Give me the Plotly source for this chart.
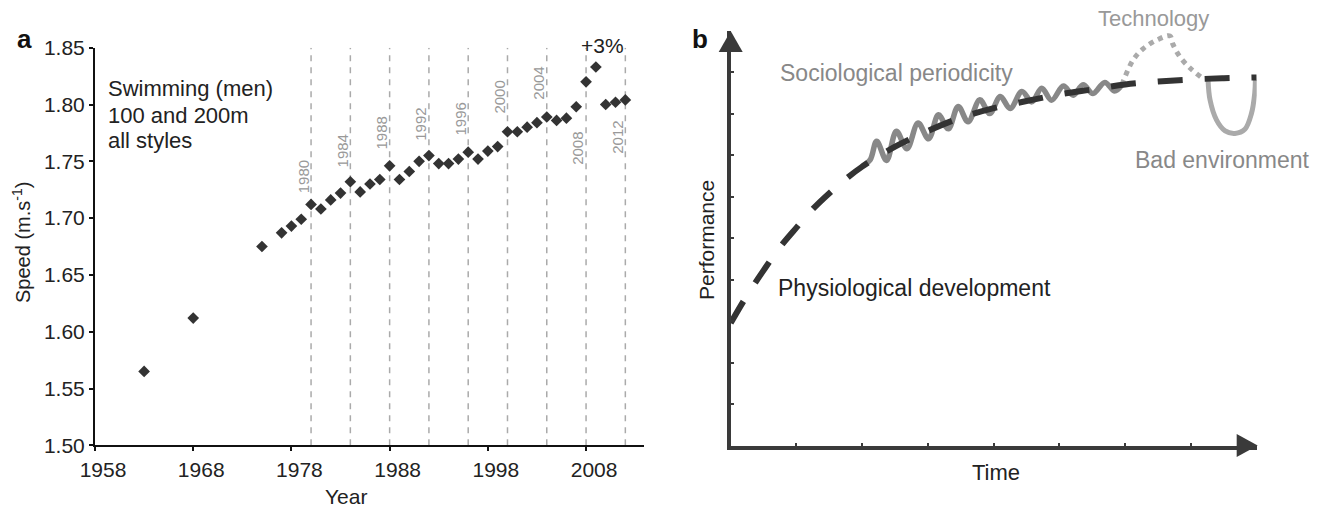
import plotly.graph_objects as go

# ---------------- Panel a data ----------------
years = [1963, 1968, 1975, 1977, 1978, 1979, 1980, 1981, 1982, 1983, 1984, 1985,
         1986, 1987, 1988, 1989, 1990, 1991, 1992, 1993, 1994, 1995, 1996, 1997,
         1998, 1999, 2000, 2001, 2002, 2003, 2004, 2005, 2006, 2007, 2008, 2009,
         2010, 2011, 2012]
speeds = [1.565, 1.612, 1.675, 1.687, 1.693, 1.699, 1.712, 1.708, 1.716, 1.722,
          1.732, 1.723, 1.730, 1.734, 1.746, 1.734, 1.741, 1.750, 1.755, 1.748,
          1.748, 1.752, 1.758, 1.752, 1.759, 1.763, 1.776, 1.776, 1.780, 1.784,
          1.789, 1.786, 1.788, 1.798, 1.820, 1.833, 1.800, 1.802, 1.804]
olympic_years = [1980, 1984, 1988, 1992, 1996, 2000, 2004, 2008, 2012]
x_ticks = [1958, 1968, 1978, 1988, 1998, 2008]
y_ticks = [1.50, 1.55, 1.60, 1.65, 1.70, 1.75, 1.80, 1.85]

# ---------------- Panel b data (schematic) ----------------
phys_x = [0, 0.25, 0.5, 0.75, 1.0, 1.25, 1.5, 1.75, 2.0, 2.5, 3.0, 3.5, 4.0,
          4.5, 5.0, 5.5, 6.0, 6.5, 7.0, 7.5, 8.0]
phys_y = [2.95, 3.62, 4.22, 4.78, 5.25, 5.7, 6.08, 6.42, 6.72, 7.2, 7.58, 7.9,
          8.13, 8.3, 8.46, 8.58, 8.7, 8.77, 8.82, 8.85, 8.87]
socio_x = [1.99, 2.12, 2.22, 2.37, 2.52, 2.68, 2.85, 3.01, 3.16, 3.31, 3.46, 3.61,
           3.79, 3.94, 4.10, 4.25, 4.43, 4.58, 4.73, 4.88, 5.06, 5.21, 5.36, 5.51,
           5.69, 5.84, 5.95]
socio_y = [6.72, 6.88, 7.33, 6.87, 7.57, 7.15, 7.77, 7.39, 7.97, 7.63, 8.17, 7.80,
           8.33, 8.00, 8.41, 8.12, 8.53, 8.28, 8.61, 8.32, 8.66, 8.44, 8.69, 8.48,
           8.75, 8.54, 8.69]
tech_x = [5.95, 6.12, 6.28, 6.48, 6.68, 6.72, 6.83, 6.99, 7.16]
tech_y = [8.69, 9.29, 9.57, 9.77, 9.87, 9.69, 9.37, 9.09, 8.87]
bad_x = [7.26, 7.29, 7.39, 7.52, 7.67, 7.82, 7.92, 7.97, 7.98]
bad_y = [8.81, 8.33, 7.84, 7.58, 7.52, 7.62, 8.0, 8.49, 8.81]

W, H = 1324, 509
FONT = "Liberation Sans, Arial, sans-serif"


def px(x):
    return x / W


def py(y):
    return 1 - y / H


fig = go.Figure()

# panel a markers
fig.add_trace(go.Scatter(
    x=years, y=speeds, mode="markers", xaxis="x", yaxis="y",
    marker=dict(symbol="diamond", size=9, color="#333333"),
    showlegend=False, hoverinfo="x+y"))

# panel b lines
fig.add_trace(go.Scatter(
    x=socio_x, y=socio_y, mode="lines", xaxis="x2", yaxis="y2",
    line=dict(color="#888888", width=5.5, shape="spline", smoothing=1.0),
    showlegend=False))
fig.add_trace(go.Scatter(
    x=tech_x, y=tech_y, mode="lines", xaxis="x2", yaxis="y2",
    line=dict(color="#aaaaaa", width=5, dash="dot", shape="spline"),
    showlegend=False))
fig.add_trace(go.Scatter(
    x=bad_x, y=bad_y, mode="lines", xaxis="x2", yaxis="y2",
    line=dict(color="#aaaaaa", width=5, shape="spline"),
    showlegend=False))
fig.add_trace(go.Scatter(
    x=phys_x, y=phys_y, mode="lines", xaxis="x2", yaxis="y2",
    line=dict(color="#333333", width=6, dash="25px,22px", shape="spline"),
    showlegend=False))

shapes = []
for yr in olympic_years:
    shapes.append(dict(type="line", xref="x", yref="y", x0=yr, x1=yr, y0=1.5, y1=1.85,
                       line=dict(color="#aaaaaa", width=1.5, dash="6px,6px"), layer="below"))
# arrows of panel b
shapes.append(dict(type="path", xref="paper", yref="paper",
                   path=f"M {px(718.7)},{py(52)} L {px(730.7)},{py(31)} L {px(742.7)},{py(52)} Z",
                   fillcolor="#3a3a3a", line=dict(width=0)))
shapes.append(dict(type="path", xref="paper", yref="paper",
                   path=f"M {px(1236.7)},{py(434)} L {px(1257.7)},{py(445.5)} L {px(1236.7)},{py(457)} Z",
                   fillcolor="#3a3a3a", line=dict(width=0)))

annotations = []


def ann(text, x, y, size=22, color="#222222", xanchor="center", yanchor="middle",
        angle=0, bold=False):
    if bold:
        text = f"<b>{text}</b>"
    annotations.append(dict(text=text, x=px(x), y=py(y), xref="paper", yref="paper",
                            showarrow=False, xanchor=xanchor, yanchor=yanchor,
                            textangle=angle, font=dict(size=size, color=color, family=FONT)))


# panel a texts
ann("a", 24.5, 39, size=26, color="#111111", bold=True)
ann("Swimming (men)", 106, 89, xanchor="left")
ann("100 and 200m", 106, 115, xanchor="left")
ann("all styles", 106, 141, xanchor="left")
ann("+3%", 602.5, 45.5, size=21)
ann("Speed (m.s<sup>-1</sup>)", 22, 243, size=20, angle=-90)
ann("Year", 346, 496, size=21)

# olympic year labels (rotated), label centre positions in data units
label_y = [1.736, 1.759, 1.775, 1.783, 1.787, 1.8065, 1.819, 1.761, 1.771]
for yr, ly in zip(olympic_years, label_y):
    annotations.append(dict(text=str(yr), x=yr, y=ly, xref="x", yref="y", showarrow=False,
                            xshift=-8, textangle=-90, xanchor="center", yanchor="middle",
                            font=dict(size=15, color="#999999", family=FONT)))

# panel b texts
ann("b", 700, 39, size=26, color="#111111", bold=True)
ann("Sociological periodicity", 896, 72.5, size=23, color="#888888")
ann("Technology", 1153, 19, size=22, color="#999999")
ann("Bad environment", 1222, 160, size=23, color="#888888")
ann("Physiological development", 776, 288, size=23, color="#222222", xanchor="left")
ann("Performance", 706, 240, size=21, angle=-90)
ann("Time", 996, 472, size=22)

fig.update_layout(
    width=W, height=H, margin=dict(l=0, r=0, t=0, b=0, pad=0, autoexpand=False),
    paper_bgcolor="white", plot_bgcolor="white",
    font=dict(family=FONT, color="#222222"),
    shapes=shapes, annotations=annotations,
    xaxis=dict(domain=[px(95), px(644)], range=[1958, 2013.9], tickvals=x_ticks,
               ticktext=[str(v) for v in x_ticks], showgrid=False, zeroline=False,
               showline=True, linecolor="#111111", linewidth=2, ticks="outside",
               ticklen=4, tickwidth=2, tickcolor="#111111", ticklabelshift=8,
               tickfont=dict(size=21, color="#222222"), anchor="y", automargin=False),
    yaxis=dict(domain=[py(445.3), py(47.7)], range=[1.5, 1.85], tickvals=y_ticks,
               ticktext=[f"{v:.2f}" for v in y_ticks], showgrid=False, zeroline=False,
               showline=True, linecolor="#111111", linewidth=2, ticks="outside",
               ticklen=4, tickwidth=2, tickcolor="#111111",
               tickfont=dict(size=21, color="#222222"), anchor="x", automargin=False),
    xaxis2=dict(domain=[px(730.7), px(1256.7)], range=[0, 8], tickvals=[1, 2, 3, 4, 5, 6, 7],
                showticklabels=False, showgrid=False, zeroline=False, showline=True,
                linecolor="#3a3a3a", linewidth=4, ticks="inside", ticklen=3, tickwidth=1.5,
                tickcolor="#3a3a3a", anchor="y2", automargin=False),
    yaxis2=dict(domain=[py(445.5), py(30.5)], range=[0, 10], tickvals=[1, 2, 3, 4, 5, 6, 7, 8, 9],
                showticklabels=False, showgrid=False, zeroline=False, showline=True,
                linecolor="#3a3a3a", linewidth=4, ticks="inside", ticklen=3, tickwidth=1.5,
                tickcolor="#3a3a3a", anchor="x2", automargin=False),
)

fig.write_html("out.html", config={"displayModeBar": False},
               post_script="document.body.style.margin='0';document.body.style.overflow='hidden';")
